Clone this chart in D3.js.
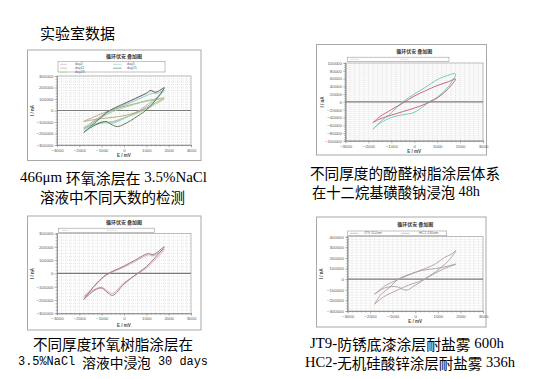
<!DOCTYPE html>
<html><head><meta charset="utf-8">
<script src="https://cdn.jsdelivr.net/npm/d3@7"></script>
<style>body{margin:0;background:#fff}svg{display:block}</style>
</head><body>
<svg id="c" width="534" height="379"></svg>
<script>
// ---------- data ----------
const xTicks = [-3000,-2000,-1000,0,1000,2000,3000];
const p1YTicks = [-300000,-200000,-100000,0,100000,200000,300000];
const p2YTicks = [-100000,-80000,-60000,-40000,-20000,0,20000,40000,60000,80000,100000];
const p3YTicks = [-300000,-200000,-100000,0,100000,200000,300000];
const p4YTicks = [-300000,-200000,-100000,0,100000,200000,300000,400000];

const panelTitle = "循环伏安 叠加图";
const xTitle = "E / mV";
const yTitle = "I / nA";

// panel 1 : 466um epoxy, different days
const p1Names = ["day2","day5","day11","day15","day26"];
const p1_day2_E  = [-1800,-1500,-1000,-500,0,500,1000,1200,1400,1600,1800,1500,1000,500,0,-500,-1000,-1500,-1800];
const p1_day2_I  = [-150000,-110000,-45000,10000,55000,100000,150000,170000,160000,175000,195000,120000,45000,-20000,-65000,-95000,-110000,-130000,-150000];
const p1_day5_E  = [-1800,-1500,-1000,-500,0,500,1000,1300,1500,1800,1500,1000,500,0,-500,-1000,-1500,-1800];
const p1_day5_I  = [-165000,-120000,-55000,0,45000,85000,130000,150000,150000,177000,110000,30000,-25000,-70000,-110000,-105000,-135000,-165000];
const p1_day11_E = [-1800,-1400,-900,-400,0,500,1000,1500,1800,1400,1000,500,0,-500,-1000,-1500,-1800];
const p1_day11_I = [-95000,-60000,-20000,15000,35000,60000,85000,100000,110000,65000,20000,-20000,-45000,-60000,-70000,-85000,-95000];
const p1_day15_E = [-1800,-1500,-1000,-800,-500,0,500,1000,1200,1400,1600,1800,1500,1000,600,0,-300,-600,-800,-1100,-1500,-1800];
const p1_day15_I = [-190000,-140000,-55000,-20000,15000,60000,105000,150000,175000,158000,175000,200000,110000,5000,-50000,-120000,-140000,-118000,-95000,-110000,-150000,-190000];
const p1_day26_E = [-1800,-1400,-1000,-500,0,500,1000,1500,1800,1400,1000,500,0,-600,-1000,-1400,-1800];
const p1_day26_I = [-160000,-110000,-60000,-10000,25000,55000,80000,95000,100000,55000,10000,-30000,-65000,-105000,-100000,-125000,-160000];

// panel 2 : phenolic resin coatings, 48h
const p2_a_E = [-1800,-1500,-1000,-500,0,500,1000,1400,1800,1500,1000,700,0,-500,-1000,-1500,-1800];
const p2_a_I = [-70000,-52000,-28000,0,20000,38000,57000,67000,72000,40000,12000,2000,-27000,-33000,-40000,-55000,-70000];
const p2_b_E = [-1800,-1500,-1000,-500,0,500,1000,1500,1800,1500,1000,500,0,-500,-1000,-1500,-1800];
const p2_b_I = [-53000,-38000,-20000,-3000,15000,29000,42000,52000,59000,35000,10000,-5000,-16000,-25000,-34000,-44000,-53000];

// panel 3 : epoxy coatings, 30 days
const p3_a_E = [-1800,-1500,-1200,-800,0,500,1100,1300,1800,1400,1000,600,0,-500,-700,-1000,-1300,-1800];
const p3_a_I = [-195000,-130000,-70000,-10000,55000,100000,150000,140000,200000,120000,50000,0,-80000,-165000,-150000,-110000,-125000,-195000];
const p3_b_E = [-1800,-1200,-800,0,500,1100,1300,1800,1400,1000,600,0,-500,-700,-1000,-1300,-1800];
const p3_b_I = [-175000,-75000,-15000,48000,90000,140000,132000,180000,105000,40000,-5000,-70000,-150000,-138000,-105000,-118000,-175000];

// panel 4 : JT9 / HC2 salt spray
const p4Names = ["JT9 112um","HC2 130um"];
const p4_jt9_E = [-1800,-1500,-1100,-800,-400,0,500,900,1300,1600,1800,1500,1200,900,300,-300,-800,-1400,-1800];
const p4_jt9_I = [-236000,-140000,-72000,-5000,35000,65000,105000,145000,205000,235000,268000,180000,120000,70000,-10000,-57000,-104000,-167000,-236000];
const p4_hc2_E = [-1800,-1300,-800,-300,300,900,1300,1800,1200,600,0,-400,-800,-1300,-1800];
const p4_hc2_I = [-142000,-57000,-9000,38000,83000,100000,116000,142000,91000,22000,-57000,-104000,-72000,-79000,-142000];

const captionTop = "实验室数据";
const cap1 = ["466μm 环氧涂层在 3.5%NaCl","溶液中不同天数的检测"];
const cap2 = ["不同厚度的酚醛树脂涂层体系","在十二烷基磺酸钠浸泡 48h"];
const cap3 = ["不同厚度环氧树脂涂层在","3.5%NaCl 溶液中浸泡 30 days"];
const cap4 = ["JT9-防锈底漆涂层耐盐雾 600h","HC2-无机硅酸锌涂层耐盐雾 336h"];

// ---------- drawing ----------
const svg = d3.select("#c");
const CJK = "'Noto Sans CJK SC'";
const SERIF = "'Liberation Serif', serif";
const MONO = "'Liberation Mono', monospace";

function drawPanel(o) {
  const g = svg.append("g");
  const [fx0, fy0, fx1, fy1] = o.frame;
  const [px0, py0, px1, py1] = o.plot;
  g.append("rect").attr("x", fx0).attr("y", fy0).attr("width", fx1 - fx0).attr("height", fy1 - fy0)
    .attr("fill", "#fff").attr("stroke", "#a8a8a8").attr("stroke-width", 1);
  const yT = o.yTicks;
  const x = d3.scaleLinear().domain([-3000, 3000]).range([px0, px1]);
  const y = d3.scaleLinear().domain([yT[0], yT[yT.length - 1]]).range([py1, py0]);
  const xMinor = d3.range(-3000, 3001, 200);
  const yStep = (yT[1] - yT[0]) / 4;
  const yMinor = d3.range(0, Math.round((yT[yT.length - 1] - yT[0]) / yStep) + 1).map(i => yT[0] + i * yStep);

  const grid = g.append("g").attr("stroke", "#cfcfcf").attr("stroke-width", 0.5).attr("stroke-dasharray", "1,1");
  grid.selectAll(".vx").data(xMinor).join("line")
    .attr("x1", d => x(d)).attr("x2", d => x(d)).attr("y1", py0).attr("y2", py1);
  grid.selectAll(".hy").data(yMinor).join("line")
    .attr("x1", px0).attr("x2", px1).attr("y1", d => y(d)).attr("y2", d => y(d));
  g.append("rect").attr("x", px0).attr("y", py0).attr("width", px1 - px0).attr("height", py1 - py0)
    .attr("fill", "none").attr("stroke", "#9a9a9a").attr("stroke-width", 0.6);

  const styleAxis = sel => {
    sel.select(".domain").attr("stroke", "#888").attr("stroke-width", 0.6);
    sel.selectAll(".tick line").attr("stroke", "#888").attr("stroke-width", 0.5);
    sel.selectAll("text").attr("font-size", "4.3px").attr("fill", "#555").attr("font-family", "Arial, 'Liberation Sans', sans-serif");
  };
  g.append("g").attr("transform", `translate(0,${py1})`)
    .call(d3.axisBottom(x).tickValues(xMinor).tickSize(1.5).tickFormat("")).call(styleAxis);
  g.append("g").attr("transform", `translate(0,${py1})`)
    .call(d3.axisBottom(x).tickValues(xTicks).tickSizeInner(2.5).tickSizeOuter(0).tickPadding(1.2).tickFormat(d3.format("d")))
    .call(styleAxis);
  g.append("g").attr("transform", `translate(${px0},0)`)
    .call(d3.axisLeft(y).tickValues(yMinor).tickSize(1.5).tickFormat("")).call(styleAxis);
  g.append("g").attr("transform", `translate(${px0},0)`)
    .call(d3.axisLeft(y).tickValues(yT).tickSizeInner(2.5).tickSizeOuter(0).tickPadding(1.2).tickFormat(d3.format("d")))
    .call(styleAxis);

  g.append("line").attr("x1", px0).attr("x2", px1).attr("y1", y(0)).attr("y2", y(0))
    .attr("stroke", "#7a7a7a").attr("stroke-width", 1.1);

  const line = d3.line().x(d => x(d[0])).y(d => y(d[1])).curve(d3.curveCatmullRom.alpha(0.5));
  o.series.forEach(s => {
    g.append("path").datum(d3.zip(s.E, s.I)).attr("d", line)
      .attr("fill", "none").attr("stroke", s.color).attr("stroke-width", 0.9).attr("stroke-linejoin", "round");
  });

  g.append("text").attr("x", (px0 + px1) / 2).attr("y", o.titleY).attr("text-anchor", "middle")
    .attr("dominant-baseline", "central").attr("font-size", "5px").attr("font-weight", "bold")
    .attr("fill", "#333").attr("font-family", CJK).text(panelTitle);

  const [lx0, ly0, lx1, ly1] = o.legend;
  g.append("rect").attr("x", lx0).attr("y", ly0).attr("width", lx1 - lx0).attr("height", ly1 - ly0)
    .attr("fill", "#fff").attr("stroke", "#999").attr("stroke-width", 0.6);
  o.legendItems.forEach(it => {
    g.append("line").attr("x1", it.x).attr("x2", it.x + it.w).attr("y1", it.y).attr("y2", it.y)
      .attr("stroke", it.color).attr("stroke-width", 0.6);
    if (it.label) g.append("text").attr("x", it.tx).attr("y", it.y).attr("dominant-baseline", "central")
      .attr("font-size", "3.6px").attr("fill", "#666").attr("font-family", "Arial, sans-serif").text(it.label);
  });

  g.append("text").attr("transform", `translate(${o.yTitleX},${(py0 + py1) / 2}) rotate(-90)`)
    .attr("text-anchor", "middle").attr("dominant-baseline", "central").attr("font-size", "4.5px")
    .attr("font-weight", "bold").attr("fill", "#444").attr("font-family", "Arial, sans-serif").text(yTitle);
  g.append("text").attr("x", (px0 + px1) / 2).attr("y", o.xTitleY).attr("text-anchor", "middle")
    .attr("dominant-baseline", "central").attr("font-size", "4.5px").attr("font-weight", "bold")
    .attr("fill", "#444").attr("font-family", "Arial, sans-serif").text(xTitle);
}

const c1 = {day2: "#c9a3c4", day5: "#7ec9c2", day11: "#b3a274", day15: "#56695c", day26: "#98d69a"};

drawPanel({
  frame: [27.5, 50, 201, 160.5], plot: [57, 76, 191, 145], yTicks: p1YTicks,
  titleY: 55.5, legend: [58, 61.5, 165, 72], yTitleX: 32, xTitleY: 155,
  series: [
    {E: p1_day2_E, I: p1_day2_I, color: c1.day2},
    {E: p1_day5_E, I: p1_day5_I, color: c1.day5},
    {E: p1_day11_E, I: p1_day11_I, color: c1.day11},
    {E: p1_day26_E, I: p1_day26_I, color: c1.day26},
    {E: p1_day15_E, I: p1_day15_I, color: c1.day15}
  ],
  legendItems: [
    {x: 60, w: 7, y: 64.3, tx: 75, color: c1.day2, label: p1Names[0]},
    {x: 60, w: 7, y: 68.2, tx: 75, color: c1.day11, label: p1Names[2]},
    {x: 60, w: 7, y: 72.2, tx: 75, color: c1.day26, label: p1Names[4]},
    {x: 113, w: 8.5, y: 64.3, tx: 127, color: c1.day5, label: p1Names[1]},
    {x: 113, w: 8.5, y: 68.2, tx: 127, color: c1.day15, label: p1Names[3]}
  ]
});

drawPanel({
  frame: [316.5, 44.5, 486.5, 155], plot: [345.5, 63, 483, 140.8], yTicks: p2YTicks,
  titleY: 50.5, legend: [347.5, 57.2, 449, 61.4], yTitleX: 322, xTitleY: 151.5,
  series: [
    {E: p2_a_E, I: p2_a_I, color: "#6cc3b9"},
    {E: p2_b_E, I: p2_b_I, color: "#c2596c"}
  ],
  legendItems: [
    {x: 350, w: 9, y: 59.3, color: "#cfcfcf"},
    {x: 400, w: 9, y: 59.3, color: "#cfcfcf"}
  ]
});

drawPanel({
  frame: [27.5, 216, 201, 330], plot: [57, 233.5, 191, 313.3], yTicks: p3YTicks,
  titleY: 221, legend: [58.3, 228.2, 154.3, 232.3], yTitleX: 32.3, xTitleY: 325,
  series: [
    {E: p3_b_E, I: p3_b_I, color: "#dea0b0"},
    {E: p3_a_E, I: p3_a_I, color: "#8c6a78"}
  ],
  legendItems: [
    {x: 61.5, w: 7, y: 230.2, color: "#d8c0c8"},
    {x: 106.5, w: 10, y: 230.2, color: "#c8c8c8"}
  ]
});

drawPanel({
  frame: [316.5, 217, 486, 327], plot: [347.5, 236.7, 483, 311], yTicks: p4YTicks,
  titleY: 223.5, legend: [347.7, 231, 446.7, 235.7], yTitleX: 321.7, xTitleY: 321.7,
  series: [
    {E: p4_jt9_E, I: p4_jt9_I, color: "#b7979e"},
    {E: p4_hc2_E, I: p4_hc2_I, color: "#a3a0a0"}
  ],
  legendItems: [
    {x: 350, w: 8, y: 233.3, tx: 364, color: "#b7979e", label: p4Names[0]},
    {x: 401.5, w: 8, y: 233.3, tx: 419, color: "#a3a0a0", label: p4Names[1]}
  ]
});

// ---------- captions: CJK runs and Latin runs get their own font ----------
function caption(txt, x0, x1, yc, fs, latinFam, latinFs) {
  const runs = [];
  for (const ch of txt) {
    const cjk = /[\u3000-\u9fff\uff00-\uffef]/.test(ch);
    if (runs.length && runs[runs.length - 1].cjk === cjk) runs[runs.length - 1].t += ch;
    else runs.push({cjk, t: ch});
  }
  const t = svg.append("text").attr("x", x0).attr("y", yc).attr("dominant-baseline", "central")
    .attr("font-size", fs + "px").attr("fill", "#000").attr("xml:space", "preserve")
    .style("white-space", "pre")
    .attr("textLength", x1 - x0).attr("lengthAdjust", "spacingAndGlyphs");
  runs.forEach(r => t.append("tspan").attr("font-family", r.cjk ? CJK : latinFam)
    .attr("font-size", (r.cjk ? fs : (latinFs || fs)) + "px").attr("fill", "#000").text(r.t));
}
caption(captionTop, 40, 115, 31.7, 15, SERIF);
caption(cap1[0], 20, 207, 176.6, 14.5, SERIF);
caption(cap1[1], 40, 185, 195.8, 14.5, SERIF);
caption(cap2[0], 310, 500, 171.8, 14.5, SERIF);
caption(cap2[1], 312, 480, 191.2, 14.5, SERIF);
caption(cap3[0], 33, 193, 342.5, 14.5, SERIF);
caption(cap3[1], 18, 208, 361.8, 14, MONO, 12.2);
caption(cap4[0], 310, 504, 343.1, 14.5, SERIF);
caption(cap4[1], 305, 515, 362.4, 14.5, SERIF);
</script>
</body></html>
